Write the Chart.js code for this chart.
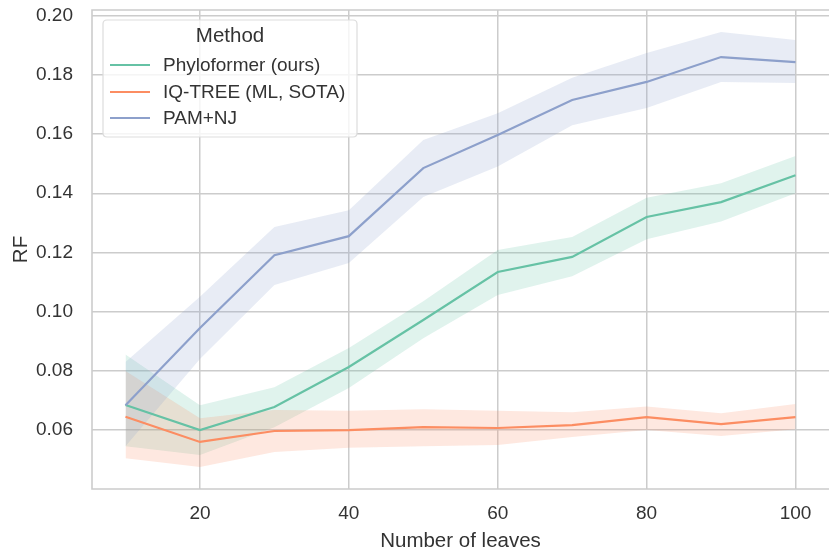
<!DOCTYPE html>
<html>
<head>
<meta charset="utf-8">
<script src="https://cdn.jsdelivr.net/npm/chart.js@4.4.1/dist/chart.umd.min.js"></script>
<style>
  html, body { margin: 0; padding: 0; background: #ffffff; }
  #wrap { width: 829px; height: 552px; }
</style>
</head>
<body>
<div id="wrap"><canvas id="c" width="829" height="552"></canvas></div>
<script>
// ---- data ----
const leaves = [10, 20, 30, 40, 50, 60, 70, 80, 90, 100];

const phyloMean = [0.0685, 0.0600, 0.0678, 0.0813, 0.0972, 0.1134, 0.1185, 0.1320, 0.1370, 0.1461];
const phyloLow  = [0.0545, 0.0516, 0.0610, 0.0742, 0.0910, 0.1056, 0.1120, 0.1245, 0.1305, 0.1400];
const phyloHigh = [0.0855, 0.0684, 0.0745, 0.0877, 0.1035, 0.1208, 0.1252, 0.1385, 0.1434, 0.1526];

const iqMean = [0.0645, 0.0560, 0.0597, 0.0600, 0.0610, 0.0607, 0.0617, 0.0644, 0.0620, 0.0644];
const iqLow  = [0.0505, 0.0475, 0.0526, 0.0540, 0.0545, 0.0550, 0.0577, 0.0600, 0.0580, 0.0603];
const iqHigh = [0.0800, 0.0640, 0.0668, 0.0665, 0.0670, 0.0665, 0.0660, 0.0680, 0.0657, 0.0688];

const pamMean = [0.0684, 0.0945, 0.1191, 0.1255, 0.1485, 0.1597, 0.1715, 0.1776, 0.1860, 0.1843];
const pamLow  = [0.0545, 0.0840, 0.1090, 0.1164, 0.1387, 0.1490, 0.1630, 0.1688, 0.1776, 0.1772];
const pamHigh = [0.0830, 0.1050, 0.1286, 0.1343, 0.1580, 0.1670, 0.1790, 0.1874, 0.1945, 0.1918];

const seriesNames = ['Phyloformer (ours)', 'IQ-TREE (ML, SOTA)', 'PAM+NJ'];
const legendTitle = 'Method';
const xTicks = [20, 40, 60, 80, 100];
const yTicks = [0.06, 0.08, 0.10, 0.12, 0.14, 0.16, 0.18, 0.20];
const xTitle = 'Number of leaves';
const yTitle = 'RF';

// ---- styles ----
const colors = ['#66c2a5', '#fc8d62', '#8da0cb'];
const bandColors = ['rgba(102,194,165,0.2)', 'rgba(252,141,98,0.2)', 'rgba(141,160,203,0.2)'];
const textColor = '#333333';
const gridColor = '#cccccc';
const FONT = "'Liberation Sans', Arial, Helvetica, sans-serif";

Chart.defaults.font.family = FONT;
Chart.defaults.color = textColor;

function pts(arr) { return leaves.map((x, i) => ({ x: x, y: arr[i] })); }

function bandPair(low, high, idx, order) {
  return [
    { label: '_low' + idx, data: pts(low), borderWidth: 0, pointRadius: 0, fill: false,
      borderColor: 'rgba(0,0,0,0)', backgroundColor: 'rgba(0,0,0,0)', order: order },
    { label: '_high' + idx, data: pts(high), borderWidth: 0, pointRadius: 0, fill: '-1',
      borderColor: 'rgba(0,0,0,0)', backgroundColor: bandColors[idx], order: order }
  ];
}

function meanLine(arr, idx, order) {
  return { label: seriesNames[idx], data: pts(arr), borderColor: colors[idx], backgroundColor: colors[idx],
    borderWidth: 2.2, pointRadius: 0, fill: false, tension: 0, order: order };
}

const datasets = [
  ...bandPair(phyloLow, phyloHigh, 0, 6),
  ...bandPair(iqLow, iqHigh, 1, 5),
  ...bandPair(pamLow, pamHigh, 2, 4),
  meanLine(phyloMean, 0, 2),
  meanLine(iqMean, 1, 1),
  meanLine(pamMean, 2, 0)
];

const framePlugin = {
  id: 'frame',
  beforeDatasetsDraw(chart) {
    const { ctx, chartArea: a } = chart;
    ctx.save();
    ctx.strokeStyle = gridColor;
    ctx.lineWidth = 1.6;
    ctx.beginPath();
    ctx.moveTo(chart.width, a.top);
    ctx.lineTo(a.left, a.top);
    ctx.lineTo(a.left, a.bottom);
    ctx.lineTo(chart.width, a.bottom);
    ctx.stroke();
    ctx.restore();
  }
};

const legendPlugin = {
  id: 'customLegend',
  afterDraw(chart) {
    const { ctx, chartArea: a } = chart;
    const x = a.left + 11, y = a.top + 10, w = 254, h = 117, r = 4;
    ctx.save();
    ctx.beginPath();
    ctx.moveTo(x + r, y);
    ctx.lineTo(x + w - r, y);
    ctx.quadraticCurveTo(x + w, y, x + w, y + r);
    ctx.lineTo(x + w, y + h - r);
    ctx.quadraticCurveTo(x + w, y + h, x + w - r, y + h);
    ctx.lineTo(x + r, y + h);
    ctx.quadraticCurveTo(x, y + h, x, y + h - r);
    ctx.lineTo(x, y + r);
    ctx.quadraticCurveTo(x, y, x + r, y);
    ctx.closePath();
    ctx.fillStyle = 'rgba(255,255,255,0.8)';
    ctx.fill();
    ctx.strokeStyle = '#dddddd';
    ctx.lineWidth = 1.2;
    ctx.stroke();

    ctx.fillStyle = textColor;
    ctx.textBaseline = 'middle';
    ctx.textAlign = 'center';
    ctx.font = "20.5px " + FONT;
    ctx.fillText(legendTitle, x + w / 2, y + 16);

    ctx.textAlign = 'left';
    ctx.font = "19px " + FONT;
    const rows = [y + 45, y + 72, y + 98];
    seriesNames.forEach((name, i) => {
      ctx.strokeStyle = colors[i];
      ctx.lineWidth = 2.2;
      ctx.beginPath();
      ctx.moveTo(x + 7, rows[i]);
      ctx.lineTo(x + 47, rows[i]);
      ctx.stroke();
      ctx.fillStyle = textColor;
      ctx.fillText(name, x + 60, rows[i] + 1);
    });
    ctx.restore();
  }
};

new Chart(document.getElementById('c'), {
  type: 'line',
  data: { datasets: datasets },
  plugins: [framePlugin, legendPlugin],
  options: {
    responsive: false,
    devicePixelRatio: 1,
    animation: false,
    layout: { padding: { top: 10, left: 0, right: 0, bottom: 0 } },
    plugins: {
      legend: { display: false },
      tooltip: { enabled: false },
      title: { display: false }
    },
    scales: {
      x: {
        type: 'linear',
        min: 5.5,
        max: 104.5,
        afterBuildTicks: (axis) => { axis.ticks = xTicks.map(v => ({ value: v })); },
        afterFit: (axis) => { axis.height = 63; axis.paddingLeft = 0; axis.paddingRight = 0; },
        grid: { color: gridColor, lineWidth: 1.5, drawTicks: false },
        border: { display: false },
        ticks: { padding: 13, color: textColor, font: { size: 19 }, maxRotation: 0,
                 callback: (v) => String(v) },
        title: { display: true, text: xTitle, color: textColor,
                 font: { size: 20.5, lineHeight: 1 }, padding: { top: 0, bottom: 0 } }
      },
      y: {
        type: 'linear',
        min: 0.0401,
        max: 0.2019,
        afterBuildTicks: (axis) => { axis.ticks = yTicks.map(v => ({ value: v })); },
        afterFit: (axis) => { axis.width = 92; axis.paddingTop = 0; axis.paddingBottom = 0; },
        grid: { color: gridColor, lineWidth: 1.5, drawTicks: false },
        border: { display: false },
        ticks: { padding: 19, color: textColor, font: { size: 19 },
                 callback: (v) => Number(v).toFixed(2) },
        title: { display: true, text: yTitle, color: textColor,
                 font: { size: 20.5, lineHeight: 1 }, padding: { top: 11, bottom: 0 } }
      }
    }
  }
});
</script>
</body>
</html>
